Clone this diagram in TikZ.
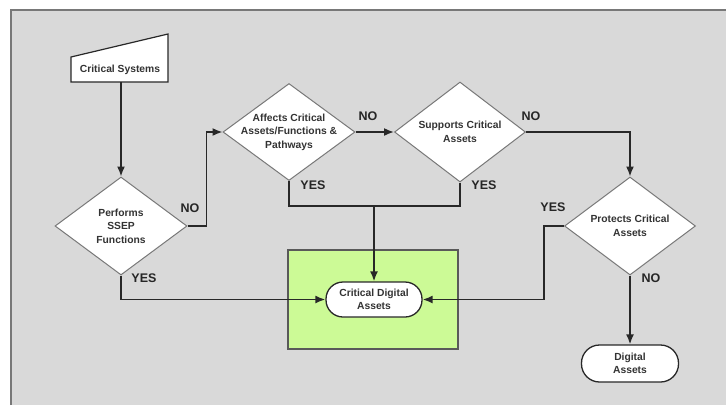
\documentclass[tikz,border=0pt]{standalone}
\usepackage{fontspec}
\setmainfont{Liberation Sans}
\usetikzlibrary{shapes.geometric,arrows.meta}
\definecolor{bg}{RGB}{217,217,217}
\definecolor{greenbox}{RGB}{204,250,150}
\definecolor{lineclr}{RGB}{40,40,40}
\definecolor{diaclr}{RGB}{120,120,120}
\begin{document}
\begin{tikzpicture}[x=1pt,y=-1pt,
  txt/.style={align=center,font=\fontsize{10.3}{13.5}\selectfont\bfseries,text=black!80,inner sep=0pt},
  decision/.style={diamond,draw=diaclr,line width=1pt,fill=white,inner sep=0pt},
  terminal/.style={rectangle,rounded corners=17pt,draw=lineclr,line width=1.3pt,fill=white,inner sep=0pt,txt},
  conn/.style={draw=lineclr,line width=1.6pt},
  arr/.style={conn,-{Latex[length=10pt,width=8pt]}},
  lbl/.style={font=\fontsize{12.5}{14}\selectfont\bfseries,text=black!85,inner sep=0pt}]
\useasboundingbox (0,0) rectangle (726,405);
% background frame
\fill[bg] (11,10) rectangle (726,405);
\draw[diaclr,line width=1.4pt] (11,405) -- (11,10) -- (726,10);
% green area
\draw[fill=greenbox,draw=black!65,line width=1.1pt] (288,250) rectangle (458,349);
% critical systems (manual input)
\draw[fill=white,draw=lineclr,line width=1.2pt] (71,57) -- (168,34) -- (168,82) -- (71,82) -- cycle;
\node[txt] (cs) at (120,70) {Critical Systems};
\coordinate (csb) at (121,82);
% decisions
\node[decision,minimum width=132pt,minimum height=98pt,
  label={[txt]center:{Performs\\SSEP\\Functions}}] (perf) at (121,226) {};
\node[decision,minimum width=132pt,minimum height=97pt,
  label={[txt]center:{Affects Critical\\Assets/Functions \&\\Pathways}}] (aff) at (289,132) {};
\node[decision,minimum width=131pt,minimum height=100pt,
  label={[txt]center:{Supports Critical\\Assets}}] (sup) at (460,132) {};
\node[decision,minimum width=131pt,minimum height=98pt,
  label={[txt]center:{Protects Critical\\Assets}}] (prot) at (630,226) {};
% terminals
\node[terminal,minimum width=96pt,minimum height=35pt] (cda) at (374,299.5) {Critical Digital\\Assets};
\node[terminal,minimum width=97pt,minimum height=37pt,rounded corners=18pt] (da) at (630,363.5) {Digital\\Assets};
\coordinate (j) at (374,206);
% connectors
\draw[arr] (csb) -- (perf.north);
\draw[arr] (perf.east) -- ++(19,0) |- (aff.west);
\draw[arr] (aff.east) -- (sup.west);
\draw[arr] (sup.east) -| (prot.north);
\draw[arr] (prot.west) -- ++(-20,0) |- (cda.east);
\draw[arr] (prot.south) -- (da.north);
\draw[arr] (perf.south) |- (cda.west);
\draw[conn] (aff.south) |- (j);
\draw[conn] (sup.south) |- (j);
\draw[arr] (j) -- (cda.north);
% labels
\node[lbl] (l1) at (190,208) {NO};
\node[lbl] (l2) at (144,278) {YES};
\node[lbl] (l3) at (368,116) {NO};
\node[lbl] (l4) at (313,185) {YES};
\node[lbl] (l5) at (531,116) {NO};
\node[lbl] (l6) at (484,185) {YES};
\node[lbl] (l7) at (553,207) {YES};
\node[lbl] (l8) at (651,278) {NO};
\end{tikzpicture}
\end{document}
